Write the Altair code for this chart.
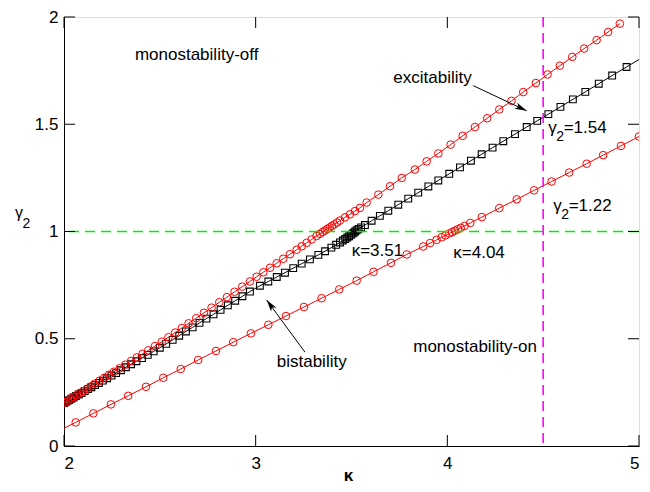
import math
import altair as alt
import pandas as pd

# ---------------- data ----------------
# upper red branch (circles)
upper_x = [2.000, 2.010, 2.020, 2.035, 2.050, 2.065, 2.080, 2.100, 2.120, 2.140,
           2.160, 2.185, 2.210, 2.235, 2.260, 2.290, 2.320, 2.350, 2.380, 2.410,
           2.440, 2.475, 2.510, 2.545, 2.580, 2.615, 2.650, 2.690, 2.730, 2.770,
           2.810, 2.850, 2.890, 2.930, 2.970, 3.005, 3.040, 3.075, 3.110, 3.144,
           3.179, 3.214, 3.240, 3.266, 3.292, 3.318, 3.335, 3.350, 3.362, 3.374,
           3.386, 3.398, 3.410, 3.425, 3.440, 3.466, 3.492, 3.518, 3.544, 3.579,
           3.640, 3.701, 3.762, 3.831, 3.892, 3.953, 4.017, 4.080, 4.144, 4.208,
           4.271, 4.335, 4.396, 4.462, 4.523, 4.587, 4.652, 4.714, 4.779, 4.839,
           4.900]
upper_y = [0.200, 0.206, 0.211, 0.220, 0.228, 0.236, 0.245, 0.256, 0.267, 0.278,
           0.290, 0.304, 0.318, 0.332, 0.346, 0.362, 0.379, 0.396, 0.413, 0.430,
           0.446, 0.466, 0.486, 0.507, 0.529, 0.550, 0.572, 0.596, 0.621, 0.645,
           0.670, 0.694, 0.719, 0.743, 0.767, 0.789, 0.810, 0.831, 0.852, 0.873,
           0.894, 0.915, 0.931, 0.947, 0.963, 0.979, 0.989, 0.998, 1.005, 1.012,
           1.019, 1.026, 1.033, 1.042, 1.051, 1.066, 1.080, 1.095, 1.110, 1.135,
           1.172, 1.211, 1.250, 1.289, 1.327, 1.364, 1.405, 1.446, 1.487, 1.528,
           1.569, 1.609, 1.650, 1.692, 1.732, 1.773, 1.814, 1.853, 1.892, 1.930,
           1.969]

# middle black branch (squares); last point is where the line meets the frame
mid_x = [2.000, 2.008, 2.017, 2.027, 2.038, 2.050, 2.063, 2.077, 2.092, 2.108,
         2.125, 2.143, 2.162, 2.182, 2.203, 2.225, 2.248, 2.272, 2.297, 2.323,
         2.350, 2.378, 2.407, 2.437, 2.468, 2.500, 2.533, 2.567, 2.601, 2.636,
         2.671, 2.707, 2.743, 2.780, 2.817, 2.855, 2.893, 2.931, 2.970, 3.022,
         3.066, 3.110, 3.153, 3.196, 3.240, 3.283, 3.327, 3.362, 3.395, 3.420,
         3.440, 3.455, 3.467, 3.478, 3.488, 3.497, 3.505, 3.512, 3.519, 3.527,
         3.537, 3.550, 3.570, 3.605, 3.648, 3.692, 3.744, 3.796, 3.848, 3.901,
         3.953, 4.010, 4.066, 4.123, 4.179, 4.236, 4.292, 4.353, 4.414, 4.469,
         4.527, 4.590, 4.655, 4.720, 4.790, 4.860, 4.935, 5.000]
mid_y = [0.200, 0.204, 0.209, 0.214, 0.220, 0.226, 0.233, 0.240, 0.247, 0.256,
         0.265, 0.274, 0.284, 0.294, 0.305, 0.316, 0.328, 0.340, 0.353, 0.367,
         0.381, 0.395, 0.410, 0.425, 0.441, 0.458, 0.476, 0.495, 0.514, 0.534,
         0.553, 0.574, 0.594, 0.614, 0.635, 0.656, 0.677, 0.698, 0.720, 0.747,
         0.767, 0.788, 0.808, 0.829, 0.850, 0.870, 0.891, 0.908, 0.925, 0.938,
         0.949, 0.958, 0.965, 0.972, 0.978, 0.984, 0.990, 0.995, 1.000, 1.006,
         1.012, 1.019, 1.030, 1.050, 1.073, 1.097, 1.125, 1.153, 1.181, 1.210,
         1.238, 1.269, 1.299, 1.330, 1.360, 1.391, 1.421, 1.454, 1.487, 1.516,
         1.547, 1.581, 1.616, 1.651, 1.689, 1.727, 1.767, 1.802]
mid_marker = [True] * (len(mid_x) - 1) + [False]

# lower red branch (circles); first point lies just left of the frame
lower_x = [1.969, 2.061, 2.153, 2.245, 2.335, 2.428, 2.518, 2.609, 2.700, 2.793,
           2.883, 2.975, 3.066, 3.158, 3.252, 3.344, 3.436, 3.527, 3.615, 3.706,
           3.788, 3.874, 3.910, 3.944, 3.970, 3.990, 4.010, 4.025, 4.040, 4.055,
           4.070, 4.090, 4.120, 4.180, 4.271, 4.362, 4.453, 4.544, 4.636, 4.727,
           4.813, 4.906, 5.000]
lower_y = [0.069, 0.110, 0.152, 0.194, 0.234, 0.276, 0.318, 0.359, 0.401, 0.443,
           0.484, 0.525, 0.565, 0.606, 0.648, 0.689, 0.730, 0.771, 0.812, 0.854,
           0.893, 0.930, 0.946, 0.961, 0.973, 0.982, 0.991, 0.997, 1.004, 1.010,
           1.017, 1.026, 1.040, 1.067, 1.109, 1.150, 1.192, 1.233, 1.275, 1.316,
           1.356, 1.399, 1.443]

x_ticks = [2, 3, 4, 5]
y_ticks = [0, 0.5, 1, 1.5, 2]
h_line_y = [1.0]
v_line_x = [4.5]

label_text = ["monostability-off", "excitability", "bistability",
              "monostability-on", "κ=3.51", "κ=4.04"]
label_x = [2.370, 3.718, 3.110, 3.822, 3.501, 4.031]
label_y = [1.799, 1.694, 0.367, 0.438, 0.886, 0.876]

gamma_value = ["=1.54", "=1.22"]
gamma_x = [4.526, 4.552]
gamma_y = [1.4585, 1.095]

arrow_x1 = [4.135, 3.257]
arrow_y1 = [1.680, 0.4376]
arrow_x2 = [4.414, 3.0574]
arrow_y2 = [1.5624, 0.6807]

# ---------------- layout ----------------
W, H = 575, 429
FONT = "Liberation Sans"

xs = alt.Scale(domain=[2, 5], nice=False, zero=False)
ys = alt.Scale(domain=[0, 2], nice=False, zero=False)
x_axis = alt.Axis(values=x_ticks, title="κ", grid=False, ticks=False, tickSize=0,
                  labelPadding=9, labelFontSize=17, labelFont=FONT,
                  labelColor="#000", domainColor="#000",
                  titleFont=FONT, titleFontSize=17, titleFontWeight="bold",
                  titleColor="#000", titleX=284, titleY=34,
                  titleBaseline="alphabetic", labelExpr="datum.value + ''")
y_axis = alt.Axis(values=y_ticks, title=None, grid=False, ticks=False, tickSize=0,
                  labelPadding=6, labelFontSize=17, labelFont=FONT,
                  labelColor="#000", domainColor="#000",
                  labelExpr="datum.value + ''")
X = alt.X("x:Q", scale=xs, axis=x_axis)
Y = alt.Y("y:Q", scale=ys, axis=y_axis)

upper = pd.DataFrame({"x": upper_x, "y": upper_y})
mid = pd.DataFrame({"x": mid_x, "y": mid_y, "m": mid_marker})
lower = pd.DataFrame({"x": lower_x, "y": lower_y})

layers = []

# black branch
layers.append(alt.Chart(mid).mark_line(color="#000", strokeWidth=1, clip=True)
              .encode(x=X, y=Y))
layers.append(alt.Chart(mid[mid["m"]]).mark_point(shape="square", filled=False,
                                                  color="#000", size=46, strokeWidth=1.1,
                                                  opacity=1, clip=True)
              .encode(x=X, y=Y))
# red branches
for df in (upper, lower):
    layers.append(alt.Chart(df).mark_line(color="#ff0000", strokeWidth=1, clip=True)
                  .encode(x=X, y=Y))
    layers.append(alt.Chart(df).mark_point(shape="circle", filled=False,
                                           color="#ff0000", size=58, strokeWidth=1,
                                           opacity=1, clip=True)
                  .encode(x=X, y=Y))

# dashed reference lines
layers.append(alt.Chart(pd.DataFrame({"y": h_line_y}))
              .mark_rule(color="#00ee00", strokeWidth=1.6, strokeDash=[10, 6],
                         opacity=1)
              .encode(y=Y))
layers.append(alt.Chart(pd.DataFrame({"x": v_line_x}))
              .mark_rule(color="#ff00ff", strokeWidth=1.6, strokeDash=[10, 6],
                         opacity=1)
              .encode(x=X))

# inward ticks on all four sides
xt = pd.DataFrame({"x": x_ticks})
yt = pd.DataFrame({"y": y_ticks})
TL = 11
layers.append(alt.Chart(xt).mark_rule(color="#000", strokeWidth=1)
              .encode(x=X, y=alt.value(H), y2=alt.value(H - TL)))
layers.append(alt.Chart(xt).mark_rule(color="#000", strokeWidth=1)
              .encode(x=X, y=alt.value(0), y2=alt.value(TL)))
layers.append(alt.Chart(yt).mark_rule(color="#000", strokeWidth=1)
              .encode(y=Y, x=alt.value(0), x2=alt.value(TL)))
layers.append(alt.Chart(yt).mark_rule(color="#000", strokeWidth=1)
              .encode(y=Y, x=alt.value(W), x2=alt.value(W - TL)))

# annotation texts
lab = pd.DataFrame({"x": label_x, "y": label_y, "t": label_text})
layers.append(alt.Chart(lab).mark_text(align="left", baseline="alphabetic",
                                       font=FONT, fontSize=17, color="#000")
              .encode(x=X, y=Y, text="t:N"))

gam = pd.DataFrame({"x": gamma_x, "y": gamma_y, "v": gamma_value})
layers.append(alt.Chart(gam).mark_text(align="left", baseline="alphabetic",
                                       font=FONT, fontSize=17, color="#000", text="γ")
              .encode(x=X, y=Y))
layers.append(alt.Chart(gam).mark_text(align="left", baseline="alphabetic",
                                       font=FONT, fontSize=14, color="#000", text="2",
                                       dx=8, dy=8)
              .encode(x=X, y=Y))
layers.append(alt.Chart(gam).mark_text(align="left", baseline="alphabetic",
                                       font=FONT, fontSize=17, color="#000", dx=15.5)
              .encode(x=X, y=Y, text="v:N"))

# arrows
angles = []
for a, b, c, d in zip(arrow_x1, arrow_y1, arrow_x2, arrow_y2):
    dxp = (c - a) * W / 3.0
    dyp = -(d - b) * H / 2.0
    angles.append(math.degrees(math.atan2(dyp, dxp)) % 360)
arr = pd.DataFrame({"x": arrow_x1, "y": arrow_y1, "x2": arrow_x2, "y2": arrow_y2,
                    "angle": angles})
layers.append(alt.Chart(arr).mark_rule(color="#000", strokeWidth=1)
              .encode(x=X, y=Y, x2="x2:Q", y2="y2:Q"))
head = "M0,0 L-2,-0.55 L-1.5,0 L-2,0.55 Z"
layers.append(alt.Chart(arr).mark_point(shape=head, filled=True, color="#000",
                                        size=144, opacity=1, strokeWidth=0.5)
              .encode(x=alt.X("x2:Q", scale=xs, axis=x_axis),
                      y=alt.Y("y2:Q", scale=ys, axis=y_axis),
                      angle=alt.Angle("angle:Q", scale=None)))

# y axis title (gamma with subscript 2)
one = pd.DataFrame({"k": [0]})
layers.append(alt.Chart(one).mark_text(align="left", baseline="alphabetic", font=FONT,
                                       fontSize=16, color="#000", text="γ")
              .encode(x=alt.value(-49), y=alt.value(201)))
layers.append(alt.Chart(one).mark_text(align="left", baseline="alphabetic", font=FONT,
                                       fontSize=14, color="#000", text="2")
              .encode(x=alt.value(-41.5), y=alt.value(211)))

chart = (alt.layer(*layers)
         .properties(width=W, height=H,
                     padding={"left": 56, "top": 9, "right": 3, "bottom": 38},
                     autosize=alt.AutoSizeParams(type="none"))
         .configure_view(stroke="#000", strokeWidth=1)
         .configure(background="white"))

chart.save("out.html", embed_options={"renderer": "svg", "actions": False})
